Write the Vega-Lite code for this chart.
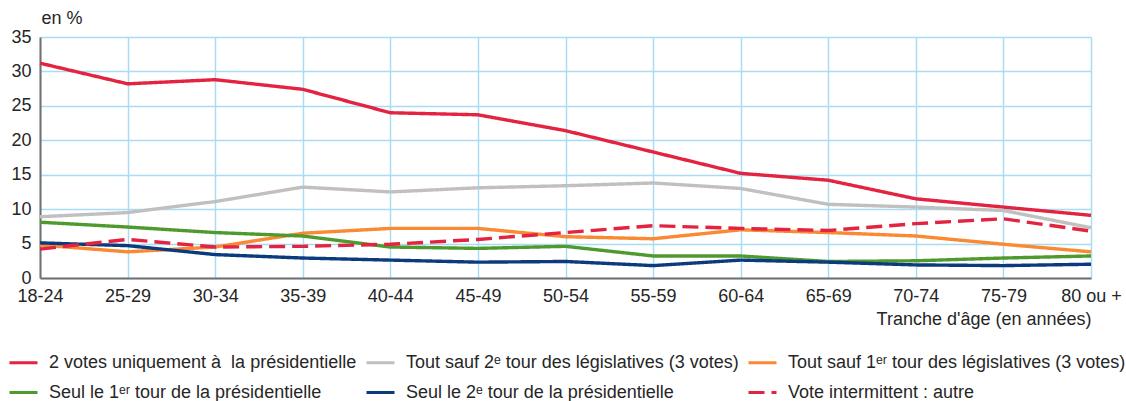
{
  "$schema": "https://vega.github.io/schema/vega-lite/v6.json",
  "width": 1051,
  "height": 241,
  "autosize": {"type": "none"},
  "padding": {"left": 40, "top": 37, "right": 35, "bottom": 123},
  "background": "white",
  "config": {
    "font": "Liberation Sans",
    "view": {"stroke": null},
    "axis": {"labelFont": "Liberation Sans", "titleFont": "Liberation Sans", "labelColor": "#262626", "titleColor": "#262626", "titleFontWeight": "normal"}
  },
  "data": {
    "values": [
      {"serie": "2 votes uniquement à\u00a0 la présidentielle", "age": "18-24", "pct": 31.2},
      {"serie": "2 votes uniquement à\u00a0 la présidentielle", "age": "25-29", "pct": 28.2},
      {"serie": "2 votes uniquement à\u00a0 la présidentielle", "age": "30-34", "pct": 28.8},
      {"serie": "2 votes uniquement à\u00a0 la présidentielle", "age": "35-39", "pct": 27.4},
      {"serie": "2 votes uniquement à\u00a0 la présidentielle", "age": "40-44", "pct": 24.0},
      {"serie": "2 votes uniquement à\u00a0 la présidentielle", "age": "45-49", "pct": 23.7},
      {"serie": "2 votes uniquement à\u00a0 la présidentielle", "age": "50-54", "pct": 21.4},
      {"serie": "2 votes uniquement à\u00a0 la présidentielle", "age": "55-59", "pct": 18.3},
      {"serie": "2 votes uniquement à\u00a0 la présidentielle", "age": "60-64", "pct": 15.2},
      {"serie": "2 votes uniquement à\u00a0 la présidentielle", "age": "65-69", "pct": 14.2},
      {"serie": "2 votes uniquement à\u00a0 la présidentielle", "age": "70-74", "pct": 11.5},
      {"serie": "2 votes uniquement à\u00a0 la présidentielle", "age": "75-79", "pct": 10.3},
      {"serie": "2 votes uniquement à\u00a0 la présidentielle", "age": "80 ou +", "pct": 9.1},
      {"serie": "Tout sauf 2ᵉ tour des législatives (3 votes)", "age": "18-24", "pct": 8.9},
      {"serie": "Tout sauf 2ᵉ tour des législatives (3 votes)", "age": "25-29", "pct": 9.5},
      {"serie": "Tout sauf 2ᵉ tour des législatives (3 votes)", "age": "30-34", "pct": 11.1},
      {"serie": "Tout sauf 2ᵉ tour des législatives (3 votes)", "age": "35-39", "pct": 13.2},
      {"serie": "Tout sauf 2ᵉ tour des législatives (3 votes)", "age": "40-44", "pct": 12.5},
      {"serie": "Tout sauf 2ᵉ tour des législatives (3 votes)", "age": "45-49", "pct": 13.1},
      {"serie": "Tout sauf 2ᵉ tour des législatives (3 votes)", "age": "50-54", "pct": 13.4},
      {"serie": "Tout sauf 2ᵉ tour des législatives (3 votes)", "age": "55-59", "pct": 13.8},
      {"serie": "Tout sauf 2ᵉ tour des législatives (3 votes)", "age": "60-64", "pct": 13.0},
      {"serie": "Tout sauf 2ᵉ tour des législatives (3 votes)", "age": "65-69", "pct": 10.7},
      {"serie": "Tout sauf 2ᵉ tour des législatives (3 votes)", "age": "70-74", "pct": 10.3},
      {"serie": "Tout sauf 2ᵉ tour des législatives (3 votes)", "age": "75-79", "pct": 9.8},
      {"serie": "Tout sauf 2ᵉ tour des législatives (3 votes)", "age": "80 ou +", "pct": 7.3},
      {"serie": "Tout sauf 1ᵉʳ tour des législatives (3 votes)", "age": "18-24", "pct": 4.8},
      {"serie": "Tout sauf 1ᵉʳ tour des législatives (3 votes)", "age": "25-29", "pct": 3.8},
      {"serie": "Tout sauf 1ᵉʳ tour des législatives (3 votes)", "age": "30-34", "pct": 4.5},
      {"serie": "Tout sauf 1ᵉʳ tour des législatives (3 votes)", "age": "35-39", "pct": 6.5},
      {"serie": "Tout sauf 1ᵉʳ tour des législatives (3 votes)", "age": "40-44", "pct": 7.2},
      {"serie": "Tout sauf 1ᵉʳ tour des législatives (3 votes)", "age": "45-49", "pct": 7.2},
      {"serie": "Tout sauf 1ᵉʳ tour des législatives (3 votes)", "age": "50-54", "pct": 6.0},
      {"serie": "Tout sauf 1ᵉʳ tour des législatives (3 votes)", "age": "55-59", "pct": 5.7},
      {"serie": "Tout sauf 1ᵉʳ tour des législatives (3 votes)", "age": "60-64", "pct": 7.0},
      {"serie": "Tout sauf 1ᵉʳ tour des législatives (3 votes)", "age": "65-69", "pct": 6.6},
      {"serie": "Tout sauf 1ᵉʳ tour des législatives (3 votes)", "age": "70-74", "pct": 6.1},
      {"serie": "Tout sauf 1ᵉʳ tour des législatives (3 votes)", "age": "75-79", "pct": 4.9},
      {"serie": "Tout sauf 1ᵉʳ tour des législatives (3 votes)", "age": "80 ou +", "pct": 3.8},
      {"serie": "Seul le 1ᵉʳ tour de la présidentielle", "age": "18-24", "pct": 8.1},
      {"serie": "Seul le 1ᵉʳ tour de la présidentielle", "age": "25-29", "pct": 7.4},
      {"serie": "Seul le 1ᵉʳ tour de la présidentielle", "age": "30-34", "pct": 6.6},
      {"serie": "Seul le 1ᵉʳ tour de la présidentielle", "age": "35-39", "pct": 6.1},
      {"serie": "Seul le 1ᵉʳ tour de la présidentielle", "age": "40-44", "pct": 4.5},
      {"serie": "Seul le 1ᵉʳ tour de la présidentielle", "age": "45-49", "pct": 4.3},
      {"serie": "Seul le 1ᵉʳ tour de la présidentielle", "age": "50-54", "pct": 4.6},
      {"serie": "Seul le 1ᵉʳ tour de la présidentielle", "age": "55-59", "pct": 3.2},
      {"serie": "Seul le 1ᵉʳ tour de la présidentielle", "age": "60-64", "pct": 3.2},
      {"serie": "Seul le 1ᵉʳ tour de la présidentielle", "age": "65-69", "pct": 2.4},
      {"serie": "Seul le 1ᵉʳ tour de la présidentielle", "age": "70-74", "pct": 2.5},
      {"serie": "Seul le 1ᵉʳ tour de la présidentielle", "age": "75-79", "pct": 2.9},
      {"serie": "Seul le 1ᵉʳ tour de la présidentielle", "age": "80 ou +", "pct": 3.2},
      {"serie": "Seul le 2ᵉ tour de la présidentielle", "age": "18-24", "pct": 5.1},
      {"serie": "Seul le 2ᵉ tour de la présidentielle", "age": "25-29", "pct": 4.7},
      {"serie": "Seul le 2ᵉ tour de la présidentielle", "age": "30-34", "pct": 3.4},
      {"serie": "Seul le 2ᵉ tour de la présidentielle", "age": "35-39", "pct": 2.9},
      {"serie": "Seul le 2ᵉ tour de la présidentielle", "age": "40-44", "pct": 2.6},
      {"serie": "Seul le 2ᵉ tour de la présidentielle", "age": "45-49", "pct": 2.3},
      {"serie": "Seul le 2ᵉ tour de la présidentielle", "age": "50-54", "pct": 2.4},
      {"serie": "Seul le 2ᵉ tour de la présidentielle", "age": "55-59", "pct": 1.8},
      {"serie": "Seul le 2ᵉ tour de la présidentielle", "age": "60-64", "pct": 2.6},
      {"serie": "Seul le 2ᵉ tour de la présidentielle", "age": "65-69", "pct": 2.3},
      {"serie": "Seul le 2ᵉ tour de la présidentielle", "age": "70-74", "pct": 1.9},
      {"serie": "Seul le 2ᵉ tour de la présidentielle", "age": "75-79", "pct": 1.8},
      {"serie": "Seul le 2ᵉ tour de la présidentielle", "age": "80 ou +", "pct": 2.0},
      {"serie": "Vote intermittent : autre", "age": "18-24", "pct": 4.2},
      {"serie": "Vote intermittent : autre", "age": "25-29", "pct": 5.6},
      {"serie": "Vote intermittent : autre", "age": "30-34", "pct": 4.5},
      {"serie": "Vote intermittent : autre", "age": "35-39", "pct": 4.6},
      {"serie": "Vote intermittent : autre", "age": "40-44", "pct": 4.9},
      {"serie": "Vote intermittent : autre", "age": "45-49", "pct": 5.6},
      {"serie": "Vote intermittent : autre", "age": "50-54", "pct": 6.6},
      {"serie": "Vote intermittent : autre", "age": "55-59", "pct": 7.6},
      {"serie": "Vote intermittent : autre", "age": "60-64", "pct": 7.2},
      {"serie": "Vote intermittent : autre", "age": "65-69", "pct": 6.9},
      {"serie": "Vote intermittent : autre", "age": "70-74", "pct": 7.9},
      {"serie": "Vote intermittent : autre", "age": "75-79", "pct": 8.6},
      {"serie": "Vote intermittent : autre", "age": "80 ou +", "pct": 6.8}
    ]
  },
  "mark": {"type": "line", "strokeWidth": 3.4, "strokeJoin": "round"},
  "encoding": {
    "x": {
      "field": "age", "type": "ordinal", "sort": null,
      "scale": {"type": "point", "padding": 0},
      "axis": {
        "title": "Tranche d'âge (en années)", "titleAnchor": "end", "titleFontSize": 18, "titlePadding": 5,
        "labelAngle": 0, "labelFontSize": 18, "labelPadding": 9, "ticks": false,
        "domainColor": "#707070", "domainWidth": 2,
        "grid": true, "gridColor": "#a9dcf3", "gridWidth": 1.5
      }
    },
    "y": {
      "field": "pct", "type": "quantitative",
      "scale": {"domain": [0, 35], "nice": false},
      "axis": {
        "title": "en %", "titleAngle": 0, "titleAlign": "left", "titleBaseline": "bottom", "titleX": 1, "titleY": -10, "titleFontSize": 18,
        "values": [0, 5, 10, 15, 20, 25, 30, 35],
        "labelFontSize": 18, "labelPadding": 9, "ticks": false,
        "domainColor": "#707070", "domainWidth": 2,
        "grid": true, "gridColor": "#a9dcf3", "gridWidth": 1.5
      }
    },
    "color": {
      "field": "serie", "type": "nominal",
      "scale": {
        "domain": ["2 votes uniquement à\u00a0 la présidentielle", "Tout sauf 2ᵉ tour des législatives (3 votes)", "Tout sauf 1ᵉʳ tour des législatives (3 votes)", "Seul le 1ᵉʳ tour de la présidentielle", "Seul le 2ᵉ tour de la présidentielle", "Vote intermittent : autre"],
        "range": ["#e3233f", "#c0c0c0", "#f98a33", "#4f9a2e", "#0b3b7d", "#e3233f"]
      },
      "legend": {
        "title": null, "orient": "none", "legendX": -32, "legendY": 310, "columns": 3, "direction": "horizontal",
        "symbolType": "stroke", "symbolSize": 784, "symbolStrokeWidth": 3,
        "labelFontSize": 18, "labelFont": "Liberation Sans", "labelColor": "#262626", "labelLimit": 0, "labelOffset": 10,
        "columnPadding": 3, "rowPadding": 5, "padding": 0
      }
    },
    "strokeDash": {
      "field": "serie", "type": "nominal",
      "scale": {
        "domain": ["2 votes uniquement à\u00a0 la présidentielle", "Tout sauf 2ᵉ tour des législatives (3 votes)", "Tout sauf 1ᵉʳ tour des législatives (3 votes)", "Seul le 1ᵉʳ tour de la présidentielle", "Seul le 2ᵉ tour de la présidentielle", "Vote intermittent : autre"],
        "range": [[1, 0], [1, 0], [1, 0], [1, 0], [1, 0], [16, 7]]
      },
      "legend": {
        "title": null, "orient": "none", "legendX": -32, "legendY": 310, "columns": 3, "direction": "horizontal",
        "symbolType": "stroke", "symbolSize": 784, "symbolStrokeWidth": 3,
        "labelFontSize": 18, "labelFont": "Liberation Sans", "labelColor": "#262626", "labelLimit": 0, "labelOffset": 10,
        "columnPadding": 3, "rowPadding": 5, "padding": 0
      }
    }
  }
}
